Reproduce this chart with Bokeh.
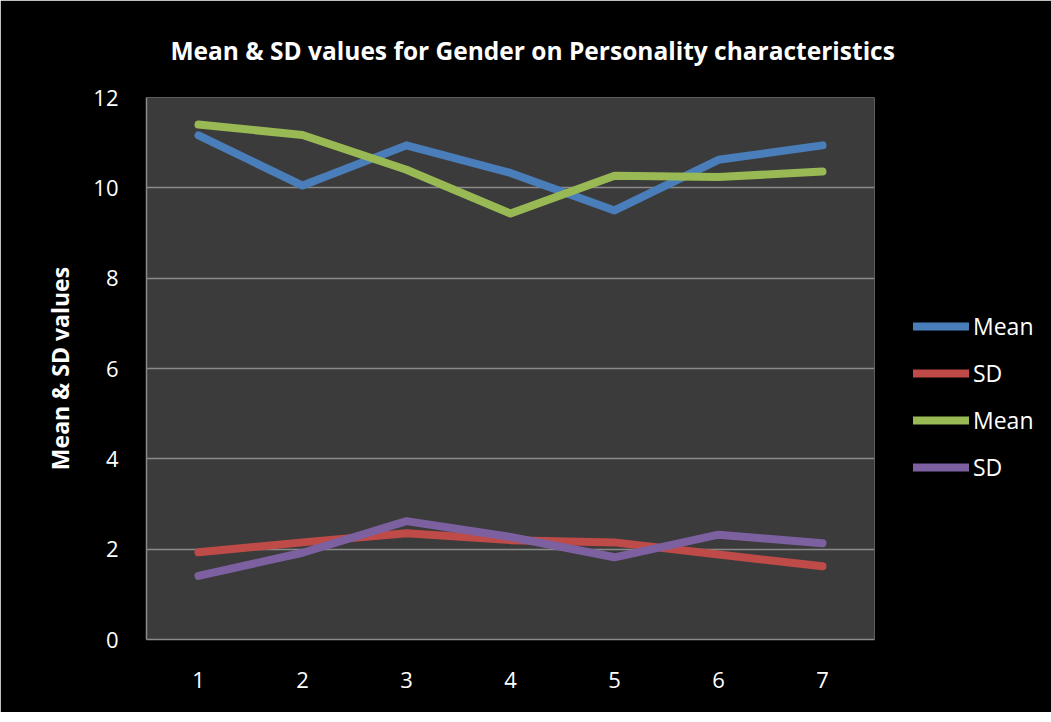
from bokeh.plotting import figure
from bokeh.models import Legend, LegendItem, Range1d, FactorRange, SingleIntervalTicker
from bokeh.embed import file_html
from bokeh.resources import INLINE

categories = ["1", "2", "3", "4", "5", "6", "7"]
mean_1 = [11.16, 10.05, 10.94, 10.33, 9.50, 10.62, 10.94]
sd_1 = [1.93, 2.15, 2.35, 2.20, 2.15, 1.88, 1.62]
mean_2 = [11.40, 11.17, 10.40, 9.43, 10.27, 10.24, 10.36]
sd_2 = [1.41, 1.92, 2.62, 2.27, 1.82, 2.32, 2.13]
series_names = ["Mean", "SD", "Mean", "SD"]
colors = ["#4A7EBB", "#BE4B48", "#98B954", "#7D60A0"]

FONT = "Open Sans"

p = figure(x_range=FactorRange(*categories), y_range=Range1d(0, 12),
           width=1040, height=712, frame_width=728, frame_height=542,
           output_backend="svg", toolbar_location=None,
           min_border_left=146, min_border_right=166, min_border_top=97, min_border_bottom=73)

p.background_fill_color = "#3B3B3B"
p.border_fill_color = "black"
p.outline_line_color = None

p.title.text = "Mean & SD values for Gender on Personality characteristics"
p.title.text_color = "white"
p.title.text_font = FONT
p.title.text_font_style = "bold"
p.title.text_font_size = "24.5px"
p.title.align = "left"
p.title.offset = 24
p.title.standoff = 61

renderers = []
for vals, col in zip([mean_1, sd_1, mean_2, sd_2], colors):
    r = p.line(categories, vals, line_color=col, line_width=8,
               line_cap="round", line_join="round")
    renderers.append(r)

p.xgrid.grid_line_color = None
p.ygrid.grid_line_color = "#8A8A8A"
p.ygrid.grid_line_width = 1.5
p.yaxis.ticker = SingleIntervalTicker(interval=2)

for ax in (p.xaxis[0], p.yaxis[0]):
    ax.axis_line_color = "#8A8A8A"
    ax.axis_line_width = 1.5
    ax.major_tick_line_color = None
    ax.minor_tick_line_color = None
    ax.major_label_text_color = "white"
    ax.major_label_text_font = FONT
    ax.major_label_text_font_size = "22px"

p.yaxis.major_label_standoff = 22
p.xaxis.major_label_standoff = 26
p.yaxis.axis_label = "Mean & SD values"
p.yaxis.axis_label_text_color = "white"
p.yaxis.axis_label_text_font = FONT
p.yaxis.axis_label_text_font_style = "bold"
p.yaxis.axis_label_text_font_size = "23px"
p.yaxis.axis_label_standoff = 14

legend = Legend(items=[LegendItem(label=n, renderers=[r]) for n, r in zip(series_names, renderers)],
                location=(39, 156), orientation="vertical",
                background_fill_alpha=0, border_line_color=None,
                label_text_color="white", label_text_font=FONT, label_text_font_size="23px",
                glyph_width=56, glyph_height=24, label_height=24, spacing=15,
                label_standoff=4, padding=0, margin=0)
p.add_layout(legend, "right")

open("out.html", "w").write(file_html(p, INLINE))
